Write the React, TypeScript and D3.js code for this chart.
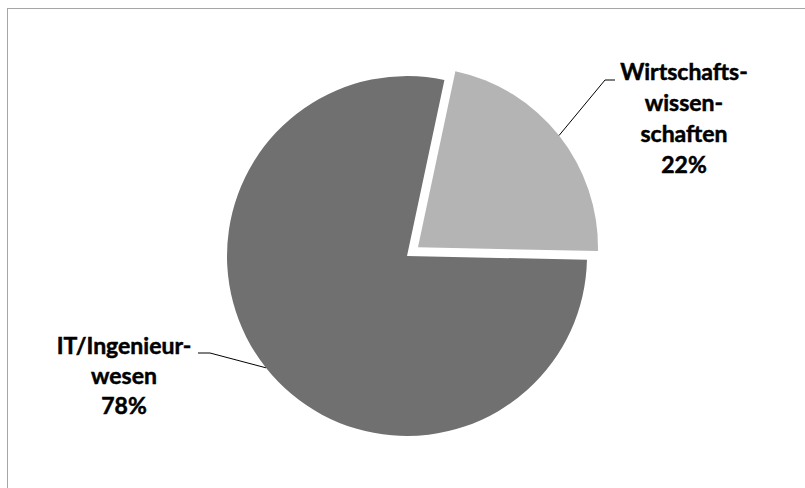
import React from 'react';
import * as d3 from 'd3';

const categories = ['Wirtschaftswissenschaften', 'IT/Ingenieurwesen'];
const labelLines = [['Wirtschafts-', 'wissen-', 'schaften'], ['IT/Ingenieur-', 'wesen']];
const values = [22, 78];
const percentLabels = ['22%', '78%'];
const colors = ['#b4b4b4', '#707070'];
const explode = [14, 0];

const W = 805;
const H = 488;
const cx = 407;
const cy = 256;
const R = 180;
const deg = Math.PI / 180;
const startDeg = 12;

const labelLayout = [
  { x: 684, y: 80, lh: 31, elbowX: 605, elbowY: 80, endX: 615 },
  { x: 124, y: 354, lh: 30, elbowX: 210, elbowY: 353, endX: 198 },
];

export default function App() {
  const pie = d3
    .pie<number>()
    .sort(null)
    .value((d) => d)
    .startAngle(startDeg * deg)
    .endAngle(startDeg * deg + 2 * Math.PI);
  const arcs = pie(values);
  const arc = d3.arc<d3.PieArcDatum<number>>().innerRadius(0).outerRadius(R);

  return (
    <svg width={W} height={H} style={{ position: 'absolute', left: 0, top: 0 }}>
      <rect x={7.5} y={8.5} width={W + 10} height={H + 10} fill="#fff" stroke="#a6a6a6" strokeWidth={1} />
      {arcs.map((a, i) => {
        const mid = (a.startAngle + a.endAngle) / 2;
        const ox = Math.sin(mid) * explode[i];
        const oy = -Math.cos(mid) * explode[i];
        const sx = cx + ox + Math.sin(mid) * R;
        const sy = cy + oy - Math.cos(mid) * R;
        const L = labelLayout[i];
        const lines = [...labelLines[i], percentLabels[i]];
        return (
          <g key={categories[i]}>
            <path d={arc(a) || ''} transform={`translate(${cx + ox},${cy + oy})`} fill={colors[i]} />
            <polyline
              points={`${sx},${sy} ${L.elbowX},${L.elbowY} ${L.endX},${L.elbowY}`}
              fill="none"
              stroke="#000"
              strokeWidth={1}
            />
            <text
              textAnchor="middle"
              fontFamily="Lato, 'Open Sans', sans-serif"
              fontWeight="bold"
              fontSize={23}
              fill="#000"
              stroke="#000"
              strokeWidth={0.5}
            >
              {lines.map((t, j) => (
                <tspan key={j} x={L.x} y={L.y + j * L.lh}>
                  {t}
                </tspan>
              ))}
            </text>
          </g>
        );
      })}
    </svg>
  );
}
